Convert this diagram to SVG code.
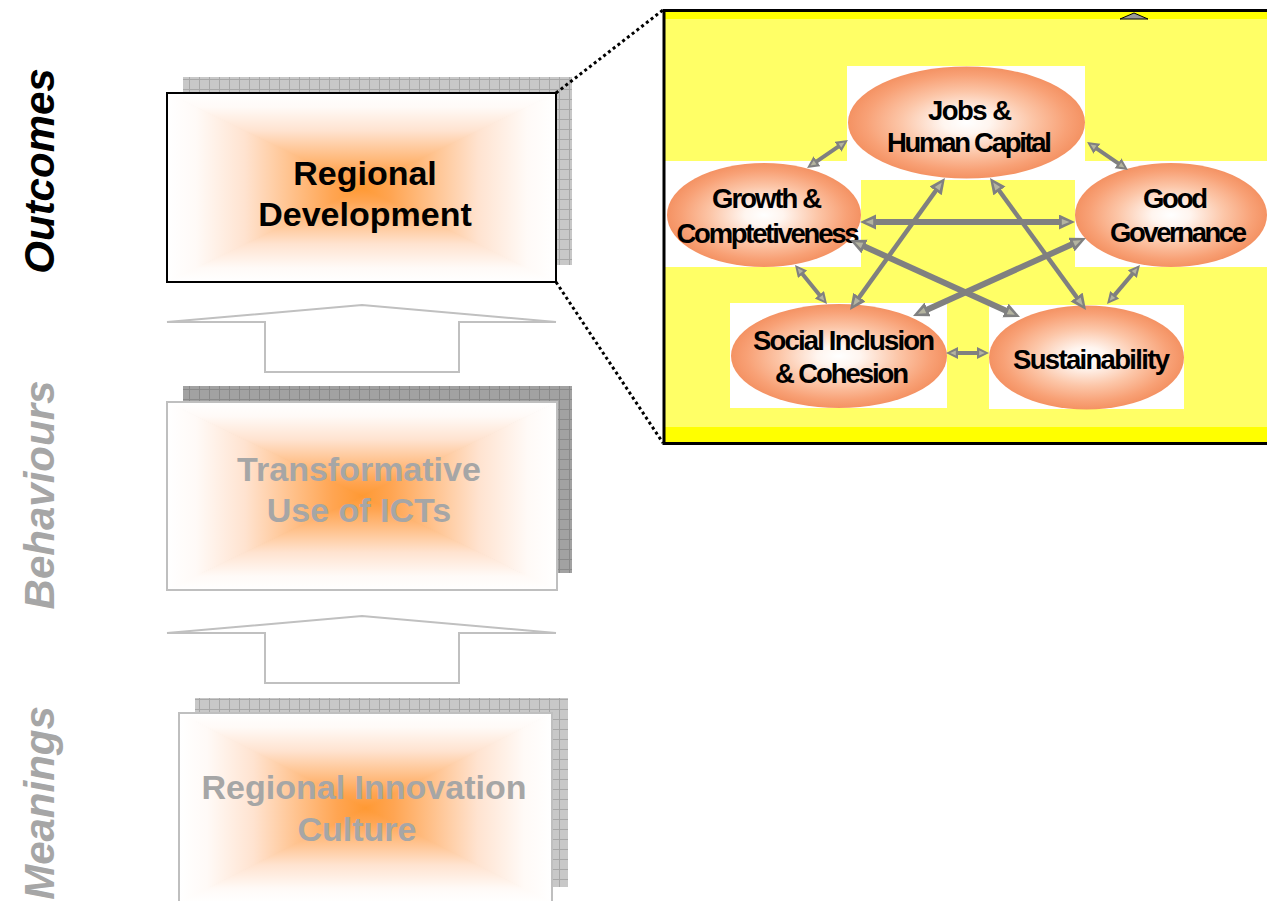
<svg xmlns="http://www.w3.org/2000/svg" width="1267" height="901" viewBox="0 0 1267 901">
<style>
.side{font-family:"Liberation Sans",Arial,sans-serif;font-weight:bold;font-style:italic;font-size:42px;text-anchor:middle}
.box-t{font-family:"Liberation Sans",Arial,sans-serif;font-weight:bold;font-size:34px;text-anchor:middle}
.el-t{font-family:"Liberation Sans",Arial,sans-serif;font-weight:bold;font-size:27.5px;text-anchor:middle;fill:#000}
.uparrow{fill:#fff;stroke:#C0C0C0;stroke-width:2;stroke-linejoin:miter}
.conn{stroke:#808080;fill:none;marker-start:url(#headS);marker-end:url(#headS)}
.conn.big{marker-start:url(#headB);marker-end:url(#headB)}
.dots{stroke:#000;stroke-width:3;stroke-dasharray:3 3;fill:none}
.ell{fill:url(#ellG)}
.wbg{fill:#fff}
</style>
<defs>
<linearGradient id="gT" x1="0" y1="0" x2="0" y2="1"><stop offset="0" stop-color="#FFFFFF"/><stop offset="0.15" stop-color="#FFFAF7"/><stop offset="0.4" stop-color="#FFE3D0"/><stop offset="0.65" stop-color="#FFC089"/><stop offset="0.85" stop-color="#FFA552"/><stop offset="1" stop-color="#FF9933"/></linearGradient>
<linearGradient id="gB" x1="0" y1="1" x2="0" y2="0" href="#gT"/>
<linearGradient id="gL" x1="0" y1="0" x2="1" y2="0" href="#gT"/>
<linearGradient id="gR" x1="1" y1="0" x2="0" y2="0" href="#gT"/>
<radialGradient id="ellG" cx="0.5" cy="0.5" r="0.5"><stop offset="0" stop-color="#FFFFFF"/><stop offset="0.2" stop-color="#FFF5EF"/><stop offset="0.55" stop-color="#FCC6A8"/><stop offset="0.85" stop-color="#F8A176"/><stop offset="1" stop-color="#F49263"/></radialGradient>
<pattern id="gridL" width="10" height="10" patternUnits="userSpaceOnUse"><rect width="10" height="10" fill="#C8C8C8"/><path d="M9.5 0V10M0 9.5H10" stroke="#A8A8A8" stroke-width="1"/></pattern>
<pattern id="gridD" width="10" height="10" patternUnits="userSpaceOnUse"><rect width="10" height="10" fill="#A2A2A2"/><path d="M9.5 0V10M0 9.5H10" stroke="#8A8A8A" stroke-width="1"/></pattern>
<marker id="headS" markerUnits="userSpaceOnUse" markerWidth="14" markerHeight="14" refX="6" refY="6" orient="auto-start-reverse"><path d="M0,0 L12,6 L0,12 Z" fill="#808080"/><path d="M2.2,3.6 L7.8,6 L2.2,8.4 Z" fill="#B4B4A0"/></marker>
<marker id="headB" markerUnits="userSpaceOnUse" markerWidth="18" markerHeight="18" refX="8" refY="7.5" orient="auto-start-reverse"><path d="M0,0 L16,7.5 L0,15 Z" fill="#808080"/><path d="M2.8,4.5 L10.5,7.5 L2.8,10.5 Z" fill="#B4B4A0"/></marker>
</defs>

<!-- side labels -->
<text class="side" fill="#000" transform="translate(54,171) rotate(-90)">Outcomes</text>
<text class="side" fill="#A6A6A6" transform="translate(54,495) rotate(-90)">Behaviours</text>
<text class="side" fill="#A6A6A6" transform="translate(54,803) rotate(-90)">Meanings</text>

<!-- Box 1 -->
<g id="regional-development">
<rect x="183" y="77" width="389" height="188" fill="url(#gridL)"/>
<polygon points="167,93 556,93 361.5,187.5" fill="url(#gT)" stroke="url(#gT)"/>
<polygon points="167,282 556,282 361.5,187.5" fill="url(#gB)" stroke="url(#gB)"/>
<polygon points="167,93 167,282 361.5,187.5" fill="url(#gL)" stroke="url(#gL)"/>
<polygon points="556,93 556,282 361.5,187.5" fill="url(#gR)" stroke="url(#gR)"/>
<rect x="167" y="93" width="389" height="189" fill="none" stroke="#000" stroke-width="2"/>
<text class="box-t" fill="#000" x="365" y="185">Regional</text>
<text class="box-t" fill="#000" x="365" y="226">Development</text>
</g>

<g id="up-arrow-1"><polygon class="uparrow" points="167,322 362,305 556,322 459,322 459,372 265,372 265,322"/></g>

<!-- Box 2 -->
<g id="transformative-use">
<rect x="183" y="386" width="389" height="187" fill="url(#gridD)"/>
<polygon points="167,402 557,402 362,496" fill="url(#gT)" stroke="url(#gT)"/>
<polygon points="167,590 557,590 362,496" fill="url(#gB)" stroke="url(#gB)"/>
<polygon points="167,402 167,590 362,496" fill="url(#gL)" stroke="url(#gL)"/>
<polygon points="557,402 557,590 362,496" fill="url(#gR)" stroke="url(#gR)"/>
<rect x="167" y="402" width="390" height="188" fill="none" stroke="#BFBFBF" stroke-width="2"/>
<text class="box-t" fill="#A6A6A6" x="359" y="481">Transformative</text>
<text class="box-t" fill="#A6A6A6" x="359" y="522">Use of ICTs</text>
</g>

<g id="up-arrow-2"><polygon class="uparrow" points="167,633 362,616 556,633 459,633 459,683 265,683 265,633"/></g>

<!-- Box 3 -->
<g id="innovation-culture">
<rect x="195" y="698" width="373" height="189" fill="url(#gridL)"/>
<polygon points="179,713 552,713 365.5,808" fill="url(#gT)" stroke="url(#gT)"/>
<polygon points="179,903 552,903 365.5,808" fill="url(#gB)" stroke="url(#gB)"/>
<polygon points="179,713 179,903 365.5,808" fill="url(#gL)" stroke="url(#gL)"/>
<polygon points="552,713 552,903 365.5,808" fill="url(#gR)" stroke="url(#gR)"/>
<rect x="179" y="713" width="373" height="190" fill="none" stroke="#BFBFBF" stroke-width="2"/>
<text class="box-t" fill="#A6A6A6" x="364" y="799">Regional Innovation</text>
<text class="box-t" fill="#A6A6A6" x="357" y="841">Culture</text>
</g>

<!-- zoom lines -->
<g id="zoom-lines">
<line class="dots" x1="556" y1="93" x2="663" y2="10"/>
<line class="dots" x1="556" y1="282" x2="663" y2="443"/>
</g>

<!-- panel -->
<g id="panel">
<rect x="664" y="10.5" width="620" height="433" fill="#FFFF66"/>
<rect x="664" y="11" width="620" height="8" fill="#FFFF00"/>
<rect x="664" y="427" width="620" height="15" fill="#FFFF00"/>
<rect class="wbg" x="847" y="66" width="238" height="114"/>
<rect class="wbg" x="665" y="161" width="196" height="106"/>
<rect class="wbg" x="1075" y="161" width="200" height="106"/>
<rect class="wbg" x="730" y="303" width="217" height="105"/>
<rect class="wbg" x="989" y="305" width="195" height="104"/>
<polygon points="1120,19 1134,13 1148,19" fill="#999" stroke="#000" stroke-width="1"/>
</g>

<g id="jobs">
<ellipse class="ell" cx="966.5" cy="122.5" rx="118.5" ry="56"/>
<text class="el-t" x="970" y="120" textLength="84" lengthAdjust="spacing">Jobs &amp;</text>
<text class="el-t" x="969.5" y="152" textLength="165" lengthAdjust="spacing">Human Capital</text>
</g>
<g id="growth">
<ellipse class="ell" cx="764" cy="215" rx="97" ry="52"/>
<text class="el-t" x="767" y="208" textLength="110" lengthAdjust="spacing">Growth &amp;</text>
<text class="el-t" x="768" y="243" textLength="183" lengthAdjust="spacing">Comptetiveness</text>
</g>
<g id="governance">
<ellipse class="ell" cx="1171" cy="215" rx="96" ry="52"/>
<text class="el-t" x="1175.5" y="208" textLength="65" lengthAdjust="spacing">Good</text>
<text class="el-t" x="1178.5" y="242" textLength="137" lengthAdjust="spacing">Governance</text>
</g>
<g id="social">
<ellipse class="ell" cx="839" cy="356" rx="108" ry="52"/>
<text class="el-t" x="844" y="350" textLength="182" lengthAdjust="spacing">Social Inclusion</text>
<text class="el-t" x="842" y="383" textLength="134" lengthAdjust="spacing">&amp; Cohesion</text>
</g>
<g id="sustainability">
<ellipse class="ell" cx="1086.5" cy="357.5" rx="97.5" ry="52"/>
<text class="el-t" x="1091.5" y="369" textLength="157" lengthAdjust="spacing">Sustainability</text>
</g>

<g id="connectors">
<line class="conn" stroke-width="4" x1="812" y1="164.6" x2="843" y2="143.4"/>
<line class="conn" stroke-width="4" x1="1092" y1="145.4" x2="1123" y2="166.6"/>
<line class="conn big" stroke-width="6" x1="868" y1="222" x2="1067" y2="222"/>
<line class="conn big" stroke-width="4.5" x1="940.3" y1="184.5" x2="854.7" y2="303.5"/>
<line class="conn big" stroke-width="4.5" x1="994.7" y1="184.5" x2="1081.3" y2="303.5"/>
<line class="conn big" stroke-width="6" x1="857.3" y1="243.3" x2="1012.7" y2="313.7"/>
<line class="conn big" stroke-width="6" x1="1078.7" y1="241.3" x2="920.3" y2="312.7"/>
<line class="conn" stroke-width="4" x1="798.8" y1="269.6" x2="823.2" y2="299.4"/>
<line class="conn" stroke-width="4" x1="1136.1" y1="269.6" x2="1110.9" y2="299.4"/>
<line class="conn" stroke-width="4" x1="952" y1="353" x2="983" y2="353"/>
</g>

<rect x="664" y="10.5" width="620" height="433" fill="none" stroke="#000" stroke-width="3"/>
</svg>
